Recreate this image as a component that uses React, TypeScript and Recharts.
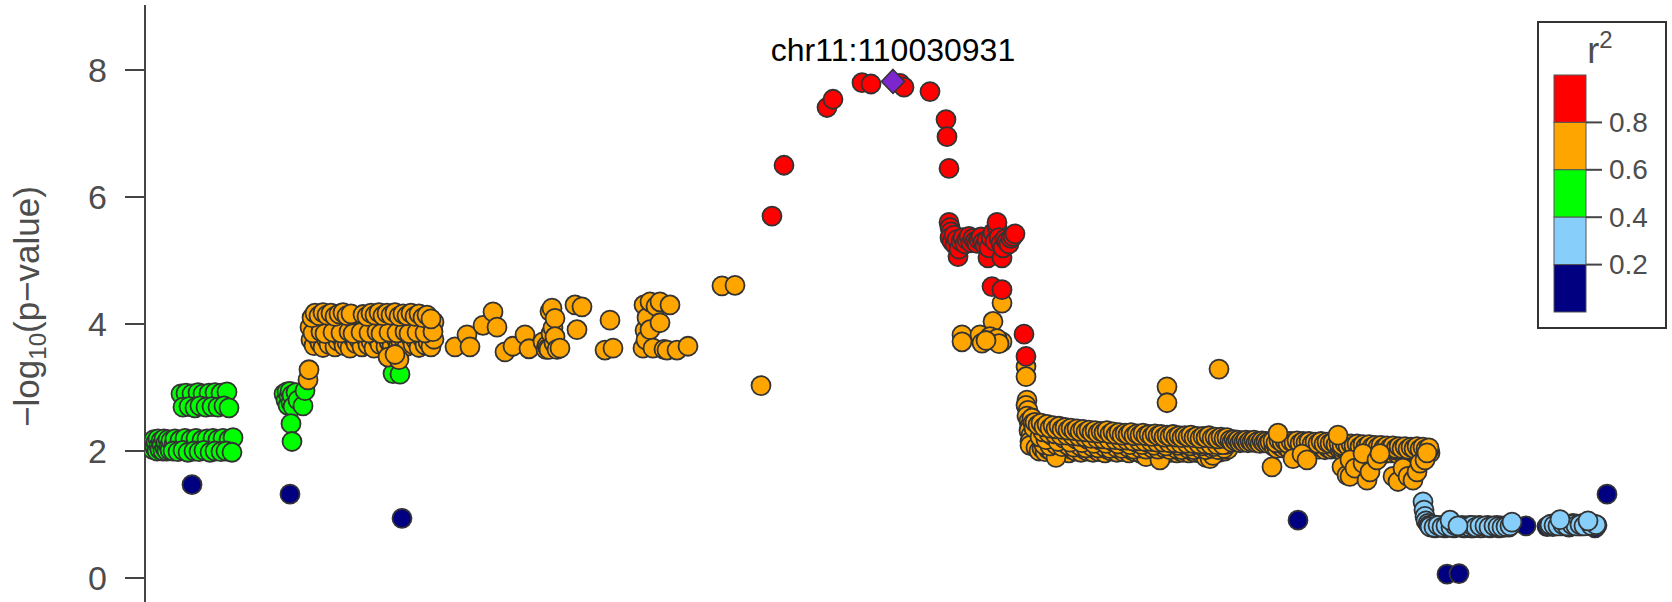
import React from 'react';
import { ScatterChart, Scatter, XAxis, YAxis, ReferenceDot, Legend } from 'recharts';

// Each point: [distance from the lead variant chr11:110030931 in kb, -log10(p-value)]
type Pt = [number, number];

const LEAD_SNP = 'chr11:110030931';
const X_DOMAIN: [number, number] = [-748, 774];
const Y_DOMAIN: [number, number] = [-0.378, 9.024];
const Y_TICKS = [0, 2, 4, 6, 8];
const R2_LABELS = ['0.8', '0.6', '0.4', '0.2'];
const R2_COLORS = ['#FF0000', '#FFA500', '#00FF00', '#87CEFA', '#000080']; // r2 high -> low

const LEAD: Pt[] = [[0, 7.82]];

const NAVY: Pt[] = [
  [-701, 1.47], [-603, 1.32], [-491, 0.94], [405, 0.91], [554, 0.06], [566, 0.07],
  [548, 0.8], [578, 0.79], [591, 0.8], [600, 0.81], [612, 0.8], [633, 0.82],
  [654, 0.81], [676, 0.8], [688, 0.82], [702, 0.79], [714, 1.32],
];

const LIGHT_BLUE: Pt[] = [
  [530, 1.2], [531, 1.07], [532, 0.97], [533, 0.9], [535, 0.86],
  [536, 0.83], [538, 0.8], [540, 0.84], [542, 0.79], [544, 0.82], [546, 0.8], [550, 0.83],
  [552, 0.79], [556, 0.8], [559, 0.83], [561, 0.79], [563, 0.81], [567, 0.8],
  [569, 0.83], [571, 0.79], [573, 0.82], [575, 0.8], [577, 0.83], [580, 0.79], [582, 0.82],
  [584, 0.8], [586, 0.83], [588, 0.79], [593, 0.8], [595, 0.83], [597, 0.79],
  [602, 0.8], [604, 0.83], [606, 0.79], [608, 0.82], [610, 0.8], [614, 0.83], [616, 0.8],
  [537, 0.81], [541, 0.8], [545, 0.83], [549, 0.8], [553, 0.82], [558, 0.8], [562, 0.83], [568, 0.81],
  [572, 0.8], [576, 0.81], [579, 0.83], [583, 0.8], [587, 0.82], [592, 0.82], [596, 0.8], [601, 0.82],
  [605, 0.81], [609, 0.8], [613, 0.81], [617, 0.82],
  [557, 0.91], [565, 0.82], [619, 0.88],
  [656, 0.82], [658, 0.85], [660, 0.81], [662, 0.86], [664, 0.83], [666, 0.85], [669, 0.82],
  [671, 0.86], [673, 0.83], [678, 0.82], [680, 0.86], [682, 0.83], [684, 0.85],
  [686, 0.82], [690, 0.86], [692, 0.83], [697, 0.84], [699, 0.82], [701, 0.85], [704, 0.83],
  [657, 0.84], [661, 0.83], [665, 0.82], [670, 0.84], [674, 0.82], [679, 0.84], [683, 0.82],
  [687, 0.84], [691, 0.82], [698, 0.83], [703, 0.84],
  [667, 0.92], [695, 0.9],
];

const GREEN: Pt[] = [
  [-741, 2.12], [-740, 2.02], [-739, 2.18], [-738, 2.06], [-737, 2.14], [-736, 2.0], [-735, 2.19],
  [-734, 2.08], [-733, 2.02], [-732, 2.16], [-731, 2.1], [-730, 2.0], [-729, 2.19], [-728, 2.05],
  [-727, 2.13], [-726, 2.0], [-725, 2.18], [-724, 2.07], [-723, 2.01], [-722, 2.16],
  [-719, 2.1], [-717, 2.04], [-714, 2.12], [-711, 2.06], [-709, 2.15], [-707, 2.03], [-704, 2.13],
  [-701, 2.07], [-698, 2.14], [-696, 2.04], [-693, 2.12], [-690, 2.06], [-688, 2.15], [-685, 2.03],
  [-682, 2.13],
  [-716, 2.09], [-706, 2.1], [-695, 2.08], [-684, 2.1], [-673, 2.09],
  [-718, 2.19], [-713, 2.17], [-708, 2.2], [-702, 2.18], [-697, 2.2], [-691, 2.17], [-686, 2.19],
  [-680, 2.2], [-675, 2.18], [-670, 2.2], [-664, 2.18], [-660, 2.21],
  [-720, 2.0], [-715, 1.99], [-710, 2.01], [-705, 1.98], [-699, 2.0], [-694, 1.99], [-689, 2.01],
  [-683, 1.98], [-678, 2.0], [-672, 1.99], [-667, 2.0], [-661, 1.98],
  [-706, 2.8], [-692, 2.79], [-680, 2.8],
  [-712, 2.9], [-707, 2.91], [-701, 2.9], [-695, 2.92], [-690, 2.9], [-684, 2.91], [-678, 2.92],
  [-672, 2.91], [-666, 2.93],
  [-710, 2.69], [-704, 2.7], [-698, 2.68], [-693, 2.71], [-687, 2.69], [-681, 2.7], [-675, 2.69],
  [-669, 2.71], [-664, 2.68],
  [-609, 2.9], [-607, 2.8], [-606, 2.93], [-605, 2.72], [-604, 2.86], [-603, 2.94], [-602, 2.76],
  [-601, 2.88], [-600, 2.7], [-602, 2.43], [-601, 2.15], [-597, 2.92], [-595, 2.8], [-590, 2.71],
  [-588, 2.95],
  [-500, 3.22], [-493, 3.21],
  [160, 1.97],
];

const ORANGE_WEST: Pt[] = [
  [-585, 3.12], [-584, 3.28],
  [-582, 3.75], [-579, 3.66], [-576, 3.8], [-573, 3.7], [-570, 3.63], [-567, 3.77], [-564, 3.68],
  [-561, 3.82], [-558, 3.64], [-555, 3.73], [-552, 3.79], [-549, 3.66], [-546, 3.71], [-543, 3.62],
  [-540, 3.78], [-537, 3.69], [-534, 3.75], [-531, 3.64], [-528, 3.8], [-525, 3.67], [-522, 3.73],
  [-519, 3.62], [-516, 3.77], [-513, 3.68], [-510, 3.81], [-507, 3.64], [-504, 3.72], [-501, 3.66],
  [-498, 3.79], [-495, 3.63], [-492, 3.7], [-489, 3.76], [-486, 3.65], [-483, 3.8], [-480, 3.68],
  [-477, 3.74], [-474, 3.63], [-471, 3.78], [-468, 3.67], [-465, 3.72], [-462, 3.64], [-459, 3.76],
  [-583, 3.95], [-575, 4.02], [-565, 3.9], [-556, 4.0], [-548, 3.92], [-537, 3.98], [-528, 4.03],
  [-519, 3.9], [-510, 3.97], [-500, 4.02], [-491, 3.92], [-482, 3.98], [-472, 3.9], [-463, 3.96],
  [-459, 4.03],
  [-580, 3.86], [-572, 3.88], [-568, 3.85], [-560, 3.87], [-552, 3.86], [-544, 3.88], [-540, 3.85],
  [-532, 3.87], [-524, 3.86], [-516, 3.88], [-512, 3.85], [-504, 3.87], [-496, 3.86], [-488, 3.88],
  [-484, 3.85], [-476, 3.87], [-468, 3.86], [-460, 3.88],
  [-581, 4.1], [-578, 4.17], [-574, 4.13], [-570, 4.18], [-566, 4.14], [-562, 4.17], [-558, 4.12],
  [-554, 4.16], [-550, 4.18], [-546, 4.13], [-542, 4.16],
  [-530, 4.15], [-526, 4.12], [-522, 4.17], [-518, 4.14], [-514, 4.18], [-510, 4.13], [-506, 4.17],
  [-502, 4.14], [-498, 4.18], [-494, 4.12], [-490, 4.16], [-486, 4.13], [-482, 4.17], [-478, 4.12],
  [-474, 4.16], [-470, 4.1], [-466, 4.14], [-462, 4.08],
  [-505, 3.48], [-494, 3.44], [-498, 3.52],
  [-438, 3.64], [-426, 3.83], [-423, 3.64], [-410, 3.98], [-400, 4.19], [-396, 3.95], [-388, 3.56],
  [-380, 3.65], [-368, 3.83], [-364, 3.61],
  [-350, 3.72], [-347, 3.6], [-346, 3.66], [-345, 3.62], [-344, 3.6], [-343, 4.2], [-342, 3.85],
  [-341, 4.25], [-340, 3.94], [-339, 3.7], [-338, 4.09], [-338, 3.8], [-336, 3.6], [-333, 3.62],
  [-318, 4.3], [-316, 3.91], [-311, 4.27], [-288, 3.59], [-283, 4.06], [-280, 3.62],
  [-250, 3.62], [-249, 4.3], [-248, 3.9], [-247, 3.75], [-246, 4.1],
  [-243, 4.35], [-243, 3.91], [-240, 3.62], [-237, 4.28], [-233, 4.35], [-233, 4.02], [-229, 3.6],
  [-226, 3.59], [-223, 4.3], [-216, 3.59], [-205, 3.65],
  [-171, 4.6], [-158, 4.61], [-132, 3.03],
];

const ORANGE_PEAK: Pt[] = [
  [109, 4.33], [100, 4.04], [69, 3.83], [69, 3.72], [87, 3.83], [89, 3.7], [100, 3.75], [109, 3.72],
  [97, 3.8], [104, 3.77], [106, 3.69], [93, 3.74],
  [133, 3.33], [133, 3.17], [134, 2.8], [133, 2.72], [135, 2.64], [134, 2.55], [136, 2.47],
  [137, 2.4], [136, 2.32], [138, 2.25], [137, 2.15], [137, 2.09], [139, 2.52], [140, 2.44], [141, 2.36],
];

const ORANGE_EAST: Pt[] = [
  // lower edge of the plateau
  [143, 2.05], [146, 2.0], [149, 2.04], [152, 1.99], [155, 2.03], [158, 2.0], [161, 2.05], [164, 1.98],
  [167, 2.02], [170, 2.0], [173, 2.04], [176, 1.97], [179, 2.02], [182, 2.0], [185, 2.04], [188, 1.98],
  [191, 2.03], [194, 2.0], [197, 2.05], [200, 1.98], [203, 2.02], [206, 1.99], [209, 2.03], [212, 1.97],
  [215, 2.02], [218, 2.0], [221, 2.04], [224, 1.98], [227, 2.02], [230, 1.99], [233, 2.03], [236, 1.97],
  [239, 2.01], [242, 1.99], [245, 2.03], [248, 1.96], [251, 2.02], [254, 1.99], [257, 2.03], [260, 1.97],
  [263, 2.01], [266, 1.99], [269, 2.02], [272, 1.96], [275, 2.01], [278, 1.98], [281, 2.02], [284, 1.97],
  [287, 2.0], [290, 1.98], [293, 2.02], [296, 1.97], [299, 2.0], [302, 1.98], [305, 2.02], [308, 1.96],
  [311, 2.0], [314, 1.97], [317, 1.96], [320, 1.99], [323, 2.01], [326, 1.98], [329, 2.02], [332, 2.0],
  [335, 2.03],
  [163, 1.9], [253, 1.91], [267, 1.86], [313, 1.9], [317, 1.88], [320, 1.93],
  // lower middle
  [151, 2.1], [157, 2.08], [163, 2.1], [169, 2.07], [175, 2.09], [181, 2.06], [187, 2.08], [193, 2.05],
  [199, 2.07], [205, 2.05], [211, 2.07], [217, 2.04], [223, 2.06], [229, 2.04], [235, 2.06], [241, 2.03],
  [247, 2.05], [253, 2.03], [259, 2.05], [265, 2.03], [271, 2.05], [277, 2.02], [283, 2.04], [289, 2.02],
  [295, 2.04], [301, 2.02], [307, 2.04], [313, 2.02], [319, 2.04], [325, 2.02], [331, 2.04],
  // middle
  [147, 2.22], [153, 2.18], [159, 2.24], [165, 2.15], [171, 2.2], [177, 2.14], [183, 2.19], [189, 2.13],
  [195, 2.18], [201, 2.12], [207, 2.17], [213, 2.12], [219, 2.16], [225, 2.11], [231, 2.15], [237, 2.1],
  [243, 2.14], [249, 2.1], [255, 2.13], [261, 2.09], [267, 2.13], [273, 2.08], [279, 2.12], [285, 2.09],
  [291, 2.11], [297, 2.08], [303, 2.11], [309, 2.08], [315, 2.1], [321, 2.07], [327, 2.1], [333, 2.1],
  // upper middle
  [150, 2.3], [156, 2.28], [162, 2.27], [168, 2.25], [174, 2.25], [180, 2.24], [186, 2.23], [192, 2.22],
  [198, 2.2], [204, 2.2], [210, 2.19], [216, 2.18], [222, 2.18], [228, 2.17], [234, 2.17], [240, 2.16],
  [246, 2.16], [252, 2.15], [258, 2.15], [264, 2.14], [270, 2.14], [276, 2.13], [282, 2.13], [288, 2.12],
  [294, 2.12], [300, 2.12], [306, 2.11], [312, 2.11], [318, 2.1], [324, 2.1], [330, 2.1],
  // upper edge
  [142, 2.45], [145, 2.41], [148, 2.44], [151, 2.38], [154, 2.42], [157, 2.36], [160, 2.4], [163, 2.35],
  [166, 2.39], [169, 2.34], [172, 2.37], [175, 2.33], [178, 2.36], [181, 2.32], [184, 2.35], [187, 2.31],
  [190, 2.34], [193, 2.3], [196, 2.33], [199, 2.29], [202, 2.32], [205, 2.28], [208, 2.31], [211, 2.29],
  [214, 2.32], [217, 2.27], [220, 2.3], [223, 2.26], [226, 2.29], [229, 2.25], [232, 2.28], [235, 2.26],
  [238, 2.29], [241, 2.24], [244, 2.27], [247, 2.25], [250, 2.28], [253, 2.24], [256, 2.26], [259, 2.23],
  [262, 2.27], [265, 2.24], [268, 2.26], [271, 2.22], [274, 2.25], [277, 2.23], [280, 2.26], [283, 2.22],
  [286, 2.24], [289, 2.21], [292, 2.24], [295, 2.22], [298, 2.25], [301, 2.21], [304, 2.23], [307, 2.2],
  [310, 2.23], [313, 2.21], [316, 2.24], [319, 2.2], [322, 2.22], [325, 2.19], [328, 2.22], [331, 2.2],
  [334, 2.21],
  [274, 3.01], [274, 2.76], [326, 3.29],
  // narrow stretch
  [337, 2.17], [339, 2.14], [341, 2.18], [343, 2.15], [345, 2.17], [347, 2.13], [349, 2.16], [351, 2.14],
  [353, 2.17], [355, 2.13], [357, 2.16], [359, 2.14], [361, 2.17], [363, 2.13], [365, 2.15], [367, 2.12],
  [369, 2.16], [371, 2.13], [373, 2.15], [375, 2.12], [377, 2.14],
  // 380-443
  [381, 2.07], [384, 2.04], [387, 2.08], [390, 2.05], [393, 2.07], [396, 2.03], [399, 2.06], [402, 2.04],
  [405, 2.07], [408, 2.03], [411, 2.06], [414, 2.04], [417, 2.06], [420, 2.02], [423, 2.05], [426, 2.03],
  [429, 2.06], [432, 2.02], [435, 2.05], [438, 2.03], [441, 2.05],
  [380, 2.16], [383, 2.13], [386, 2.17], [389, 2.14], [392, 2.16], [395, 2.12], [398, 2.15], [401, 2.13],
  [404, 2.16], [407, 2.12], [410, 2.15], [413, 2.13], [416, 2.15], [419, 2.11], [422, 2.14], [425, 2.12],
  [428, 2.15], [431, 2.11], [434, 2.14], [437, 2.12], [440, 2.14], [443, 2.1],
  [379, 1.75], [385, 2.28], [400, 1.88], [409, 1.95], [414, 1.86],
  // 444-538
  [447, 2.02], [450, 1.99], [453, 2.03], [456, 1.98], [459, 2.02], [462, 1.99], [465, 2.02], [468, 1.97],
  [471, 2.01], [474, 1.98], [477, 2.01], [480, 1.97], [483, 2.0], [486, 1.97], [489, 2.0], [492, 1.96],
  [495, 1.99], [498, 1.97], [501, 2.0], [504, 1.96], [507, 1.99], [510, 1.96], [513, 1.99], [516, 1.95],
  [519, 1.98], [522, 1.96], [525, 1.99], [528, 1.95], [531, 1.98], [534, 1.96], [537, 1.97],
  [448, 2.06], [452, 2.05], [456, 2.06], [460, 2.05], [464, 2.06], [468, 2.04], [472, 2.05], [476, 2.04],
  [480, 2.05], [484, 2.03], [488, 2.04], [492, 2.03], [496, 2.04], [500, 2.02], [504, 2.03], [508, 2.02],
  [512, 2.03], [516, 2.01], [520, 2.02], [524, 2.01], [528, 2.02], [532, 2.0], [536, 2.01],
  [446, 2.12], [449, 2.09], [452, 2.12], [455, 2.08], [458, 2.11], [461, 2.08], [464, 2.11], [467, 2.07],
  [470, 2.1], [473, 2.07], [476, 2.1], [479, 2.06], [482, 2.09], [485, 2.06], [488, 2.09], [491, 2.05],
  [494, 2.08], [497, 2.05], [500, 2.08], [503, 2.04], [506, 2.07], [509, 2.04], [512, 2.07], [515, 2.03],
  [518, 2.06], [521, 2.04], [524, 2.07], [527, 2.03], [530, 2.06], [533, 2.03], [536, 2.05],
  [445, 2.25], [449, 1.75], [454, 1.62], [457, 1.6], [457, 1.86], [462, 1.73], [470, 1.81], [470, 1.96],
  [474, 1.54], [477, 1.67], [484, 1.86], [487, 1.96], [500, 1.6], [505, 1.52], [510, 1.73], [515, 1.6],
  [520, 1.54], [524, 1.67], [527, 1.81], [532, 1.86], [534, 1.97],
];

const RED: Pt[] = [
  [-121, 5.7], [-109, 6.5], [-66, 7.41], [-60, 7.54], [-31, 7.8], [-22, 7.78], [7, 7.79], [11, 7.73],
  [37, 7.66], [53, 7.22], [54, 6.95], [56, 6.45],
  [56, 5.6], [57, 5.52], [58, 5.45], [57, 5.36], [59, 5.3], [61, 5.4], [62, 5.25], [64, 5.33], [65, 5.06],
  [66, 5.18], [68, 5.3], [70, 5.36], [72, 5.26], [74, 5.33], [76, 5.38], [78, 5.28], [80, 5.35], [82, 5.3],
  [84, 5.27], [86, 5.33], [88, 5.37], [90, 5.29], [92, 5.24], [94, 5.32], [95, 5.04], [96, 5.2], [98, 5.36],
  [100, 5.44], [102, 5.3], [104, 5.53], [104, 5.6], [106, 5.36], [108, 5.27], [109, 5.04], [110, 5.2],
  [112, 5.34], [114, 5.3], [116, 5.26], [118, 5.35], [120, 5.38], [122, 5.42],
  [99, 4.59], [109, 4.54], [131, 3.84], [133, 3.49],
];

const ORANGE: Pt[] = [...ORANGE_WEST, ...ORANGE_PEAK, ...ORANGE_EAST];

const FONT = '"Liberation Sans", Arial, Helvetica, sans-serif';
const TEXT_GRAY = '#4D4D4D';
const OUTLINE = '#333333';

const toData = (pts: Pt[]) => pts.map(([x, y]) => ({ x, y }));

const circleShape = (fill: string) => (props: any) => {
  const { cx, cy } = props;
  if (cx == null || cy == null) return <g />;
  return <circle cx={cx} cy={cy} r={9.5} fill={fill} stroke={OUTLINE} strokeWidth={1.8} />;
};

const diamondShape = (props: any) => {
  const { cx, cy } = props;
  if (cx == null || cy == null) return <g />;
  return (
    <polygon
      points={`${cx},${cy - 12} ${cx + 11.5},${cy} ${cx},${cy + 12} ${cx - 11.5},${cy}`}
      fill="#7D26CD"
      stroke={OUTLINE}
      strokeWidth={1.6}
    />
  );
};

const YLabel = (props: any) => {
  const vb = props.viewBox || { y: 5, height: 597 };
  const cy = vb.y + vb.height / 2 + 3;
  return (
    <text
      transform={`translate(39, ${cy}) rotate(-90)`}
      textAnchor="middle"
      fontSize={35}
      fill={TEXT_GRAY}
      fontFamily={FONT}
    >
      −log
      <tspan fontSize={24} dy={7}>10</tspan>
      <tspan dy={-7}>(p−value)</tspan>
    </text>
  );
};

const SEG_TOP = 54;
const SEG_H = 47.4;

const R2Legend = () => (
  <svg width={131} height={309} style={{ display: 'block', fontFamily: FONT }}>
    <rect x={1} y={1} width={128} height={306} fill="#FFFFFF" stroke={OUTLINE} strokeWidth={2} />
    <text x={63} y={42} textAnchor="middle" fontSize={36} fill={TEXT_GRAY}>
      r<tspan fontSize={24} dy={-15}>2</tspan>
    </text>
    {R2_COLORS.map((c, i) => (
      <rect key={c} x={17} y={SEG_TOP + i * SEG_H} width={32} height={SEG_H} fill={c} stroke="#555555" strokeWidth={1} />
    ))}
    {R2_LABELS.map((lab, i) => {
      const y = SEG_TOP + (i + 1) * SEG_H;
      return (
        <g key={lab}>
          <line x1={49} x2={65} y1={y} y2={y} stroke="#444444" strokeWidth={2} />
          <text x={72} y={y} dominantBaseline="central" fontSize={28} fill={TEXT_GRAY}>
            {lab}
          </text>
        </g>
      );
    })}
  </svg>
);

export default function App() {
  return (
    <div style={{ position: 'absolute', left: 0, top: 0, width: 1672, height: 602, background: '#FFFFFF', fontFamily: FONT }}>
      <ScatterChart width={1672} height={602} margin={{ top: 5, right: 5, bottom: 0, left: 0 }}>
        <XAxis
          type="number"
          dataKey="x"
          domain={X_DOMAIN}
          orientation="top"
          height={0}
          tick={false}
          tickLine={false}
          axisLine={{ stroke: '#444444', strokeWidth: 2 }}
          allowDataOverflow
        />
        <YAxis
          type="number"
          dataKey="y"
          domain={Y_DOMAIN}
          ticks={Y_TICKS}
          interval={0}
          width={145}
          tickSize={20}
          tickMargin={18}
          axisLine={{ stroke: '#444444', strokeWidth: 2 }}
          tickLine={{ stroke: '#444444', strokeWidth: 2 }}
          tick={{ fontSize: 34, fill: TEXT_GRAY, fontFamily: FONT }}
          allowDataOverflow
          label={{ content: YLabel }}
        />
        <Scatter data={toData(NAVY)} shape={circleShape('#000080')} isAnimationActive={false} />
        <Scatter data={toData(LIGHT_BLUE)} shape={circleShape('#87CEFA')} isAnimationActive={false} />
        <Scatter data={toData(GREEN)} shape={circleShape('#00FF00')} isAnimationActive={false} />
        <Scatter data={toData(ORANGE)} shape={circleShape('#FFA500')} isAnimationActive={false} />
        <Scatter data={toData(RED)} shape={circleShape('#FF0000')} isAnimationActive={false} />
        <Scatter data={toData(LEAD)} shape={diamondShape} isAnimationActive={false} />
        <ReferenceDot
          x={LEAD[0][0]}
          y={LEAD[0][1]}
          r={1}
          fill="none"
          stroke="none"
          label={{ value: LEAD_SNP, position: 'top', offset: 19, fontSize: 32, fill: '#000000', fontFamily: FONT }}
        />
        <Legend
          layout="horizontal"
          verticalAlign="middle"
          align="center"
          wrapperStyle={{ left: 1537, top: 21, width: 131, height: 309 }}
          content={<R2Legend />}
        />
      </ScatterChart>
    </div>
  );
}
